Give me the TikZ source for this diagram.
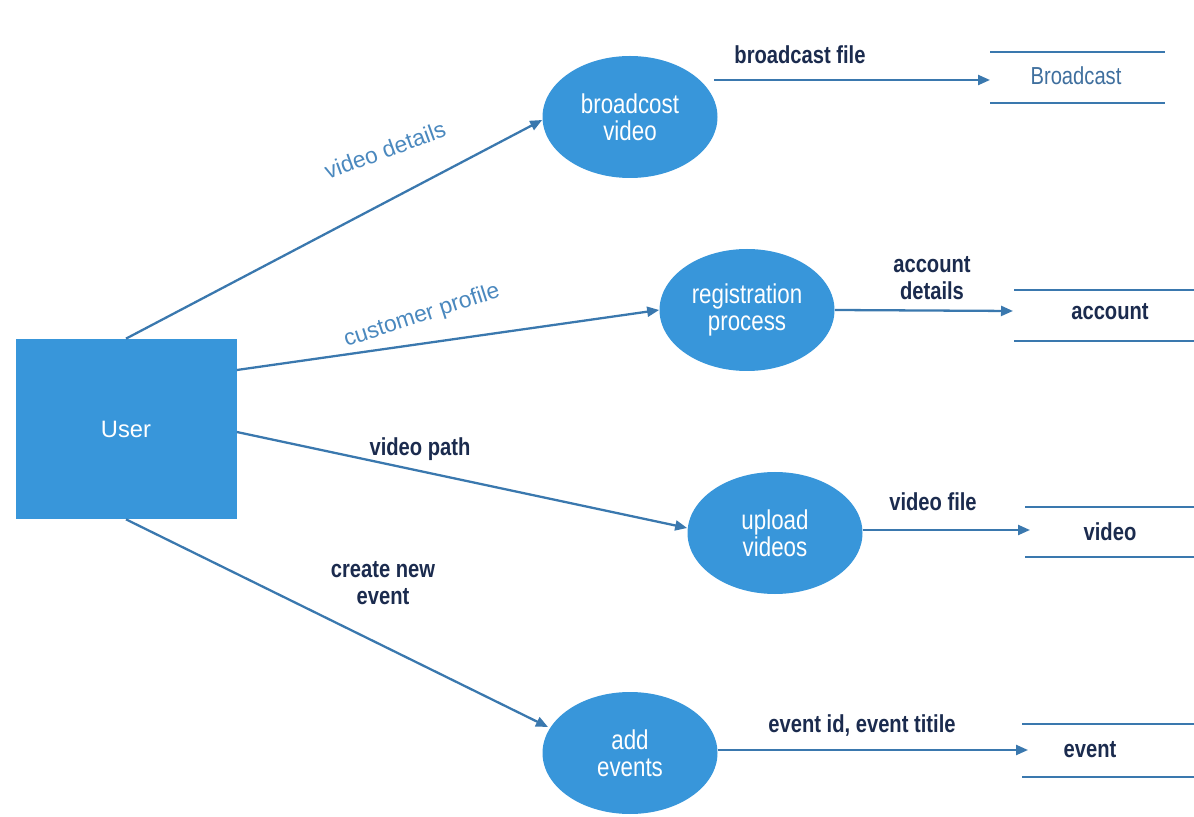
\documentclass[tikz,border=0pt]{standalone}
\usepackage{fontspec}
\setmainfont{Liberation Sans}
\newfontfamily\procfont[FakeStretch=0.82]{Liberation Sans}
\newfontfamily\darkfont[FakeStretch=0.82]{Liberation Sans Bold}
\usetikzlibrary{arrows.meta,shapes.geometric}
\definecolor{procblue}{HTML}{3896DA}
\definecolor{linec}{HTML}{3A78AE}
\definecolor{lblblue}{HTML}{4A88BE}
\definecolor{navy}{HTML}{1B2B4E}
\definecolor{storetxt}{HTML}{3F6F9E}
\tikzset{
  proc/.style={ellipse, fill=procblue, draw=none, minimum width=175*0.02cm, minimum height=122*0.02cm, inner sep=0pt, text=white, align=center, font=\procfont\fontsize{15.5}{17.5}\selectfont},
  ext/.style={rectangle, fill=procblue, draw=none, minimum width=221*0.02cm, minimum height=180*0.02cm, text=white, font=\fontsize{13.5}{16}\selectfont},
  flow/.style={draw=linec, line width=1.3pt, -{Triangle[length=0.24cm,width=0.2cm]}},
  storeline/.style={draw=linec, line width=1.3pt},
  darklbl/.style={text=navy, align=center, font=\darkfont\fontsize{14}{15}\selectfont, inner sep=0pt},
  bluelbl/.style={text=lblblue, font=\fontsize{13}{15}\selectfont, inner sep=0pt},
  storelbl/.style={inner sep=0pt},
}
\begin{document}
\begin{tikzpicture}[x=0.02cm, y=-0.02cm]
\useasboundingbox (0,0) rectangle (1194,817);
% external entity
\node[ext] (user) at (126,429) {User};
% processes
\node[proc] (p1) at (630,117) {broadcost\\[-2pt]video};
\node[proc] (p2) at (747,310) {registration\\[-2pt]process};
\node[proc] (p3) at (775,533) {upload\\[-2pt]videos};
\node[proc] (p4) at (630,753) {add\\[-2pt]events};
% data stores
\coordinate (s1a) at (990,52);  \coordinate (s1b) at (1165,52);
\coordinate (s1c) at (990,103); \coordinate (s1d) at (1165,103);
\draw[storeline] (s1a) -- (s1b); \draw[storeline] (s1c) -- (s1d);
\node[storelbl, text=storetxt, font=\procfont\fontsize{14}{16}\selectfont] (s1) at (1076,76) {Broadcast};
\coordinate (s2a) at (1014,290); \coordinate (s2b) at (1194,290);
\coordinate (s2c) at (1014,341); \coordinate (s2d) at (1194,341);
\draw[storeline] (s2a) -- (s2b); \draw[storeline] (s2c) -- (s2d);
\node[darklbl] (s2) at (1110,312) {account};
\coordinate (s3a) at (1025,507); \coordinate (s3b) at (1194,507);
\coordinate (s3c) at (1025,557); \coordinate (s3d) at (1194,557);
\draw[storeline] (s3a) -- (s3b); \draw[storeline] (s3c) -- (s3d);
\node[darklbl] (s3) at (1110,532) {video};
\coordinate (s4a) at (1022,724); \coordinate (s4b) at (1194,724);
\coordinate (s4c) at (1022,777); \coordinate (s4d) at (1194,777);
\draw[storeline] (s4a) -- (s4b); \draw[storeline] (s4c) -- (s4d);
\node[darklbl] (s4) at (1090,750) {event};
% flows from user
\draw[flow] (user.north) -- (p1.west |- 0,120);
\draw[flow] (user.east |- 0,370) -- (p2.west);
\draw[flow] (user.east |- 0,432) -- (p3.west |- 0,528);
\draw[flow] (user.south) -- (548,727) coordinate (e4);
% flows to stores
\coordinate (t1) at (990,80);
\draw[flow] (p1.east |- 0,80) ++(-4,0) -- (t1);
\coordinate (t2) at (1013,311);
\draw[flow] (p2.east) -- (t2);
\coordinate (t3) at (1030,530);
\draw[flow] (p3.east |- 0,530) -- (t3);
\coordinate (t4) at (1028,750);
\draw[flow] (p4.east |- 0,750) -- (t4);
% labels
\node[bluelbl, rotate=20] (l1) at (385,150) {video details};
\node[bluelbl, rotate=18] (l2) at (422,316) {customer profile};
\node[darklbl] (l3) at (420,449) {video path};
\node[darklbl] (l4) at (383,583) {create new\\event};
\node[darklbl] (l5) at (800,55) {broadcast file};
\node[darklbl] (l6) at (932,278) {account\\details};
\node[darklbl] (l7) at (933,502) {video file};
\node[darklbl] (l8) at (862,725) {event id, event titile};
\end{tikzpicture}
\end{document}
